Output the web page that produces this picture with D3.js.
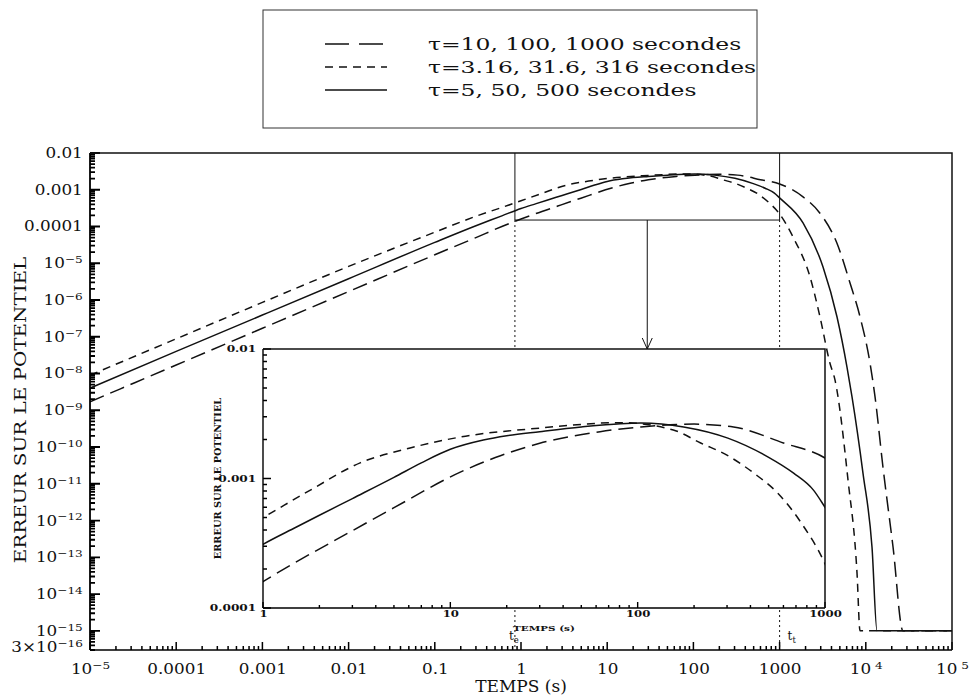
<!DOCTYPE html>
<html>
<head>
<meta charset="utf-8">
<script src="https://cdn.jsdelivr.net/npm/d3@7"></script>
<style>
  body { margin: 0; background: #fff; }
  text { font-family: "DejaVu Serif", serif; fill: #111; }
</style>
</head>
<body>
<svg id="chart" width="969" height="696"></svg>
<script>
// Data: temps (s) / erreur sur le potentiel
const legendLabels = ["τ=10, 100, 1000 secondes", "τ=3.16, 31.6, 316 secondes", "τ=5, 50, 500 secondes"];

const tLong = [1e-5, 1e-4, 1e-3, 0.01, 0.1, 0.3, 0.6, 1, 1.45, 2.67, 4.95, 11.3, 18.5, 30, 63, 104, 200, 325, 600, 1000, 1870, 2940, 4630, 6560, 8570, 11200, 12800, 15800, 20700, 27000, 1e5];
const eLong = [1.7e-9, 1.7e-8, 1.7e-7, 1.7e-6, 1.7e-5, 5e-5, 1.0e-4, 1.6e-4, 2.2e-4, 3.6e-4, 5.9e-4, 1.12e-3, 1.5e-3, 1.87e-3, 2.3e-3, 2.5e-3, 2.63e-3, 2.5e-3, 1.88e-3, 1.44e-3, 6.4e-4, 2.3e-4, 3.5e-5, 2.9e-6, 3.5e-7, 1.9e-8, 2.3e-9, 2.9e-11, 1.9e-13, 1e-15, 1e-15];

const tShort = [1e-5, 1e-4, 1e-3, 0.01, 0.1, 0.3, 0.6, 1, 1.78, 3.3, 6.1, 11.3, 30, 81, 155, 217, 303, 417, 560, 746, 985, 1430, 2250, 2940, 3840, 4390, 6220, 7910, 8570, 1e5];
const eShort = [9e-9, 8.8e-8, 8.6e-7, 8.2e-6, 7e-5, 1.9e-4, 3.3e-4, 5e-4, 8.1e-4, 1.32e-3, 1.72e-3, 2.09e-3, 2.45e-3, 2.7e-3, 2.37e-3, 1.88e-3, 1.5e-3, 1.1e-3, 7.7e-4, 4.55e-4, 2.3e-4, 5.2e-5, 4.3e-6, 3.5e-7, 1.9e-8, 6.7e-9, 1.26e-11, 3.7e-14, 1e-15, 1e-15];

const tSolid = [1e-5, 1e-4, 1e-3, 0.01, 0.1, 0.3, 0.6, 1, 1.5, 2, 3, 5, 7, 10, 15, 20, 30, 50, 81, 104, 176, 303, 495, 680, 870, 1000, 1870, 3190, 4630, 6050, 6920, 9290, 11800, 13500, 1e5];
const eSolid = [4e-9, 4e-8, 3.9e-7, 3.8e-6, 3.7e-5, 1.05e-4, 1.95e-4, 3.1e-4, 4.2e-4, 5.2e-4, 7e-4, 1.02e-3, 1.32e-3, 1.68e-3, 1.98e-3, 2.14e-3, 2.3e-3, 2.5e-3, 2.65e-3, 2.68e-3, 2.5e-3, 2.05e-3, 1.47e-3, 1.1e-3, 8.1e-4, 6e-4, 1.25e-4, 7.9e-6, 3.5e-7, 1.5e-8, 2.3e-9, 1.9e-11, 1.9e-13, 1e-15, 1e-15];

// tick values
const xMajor = [1e-5, 1e-4, 1e-3, 0.01, 0.1, 1, 10, 100, 1000, 1e4, 1e5];
const xLabels = [["10", "−5"], ["0.0001"], ["0.001"], ["0.01"], ["0.1"], ["1"], ["10"], ["100"], ["1000"], ["10", " 4"], ["10", " 5"]];
const yMajor = [1e-2, 1e-3, 1e-4, 1e-5, 1e-6, 1e-7, 1e-8, 1e-9, 1e-10, 1e-11, 1e-12, 1e-13, 1e-14, 1e-15, 3e-16];
const yLabels = [["0.01"], ["0.001"], ["0.0001"], ["10", "−5"], ["10", "−6"], ["10", "−7"], ["10", "−8"], ["10", "−9"], ["10", "−10"], ["10", "−11"], ["10", "−12"], ["10", "−13"], ["10", "−14"], ["10", "−15"], ["3×10", "−16"]];
const insetXMajor = [1, 10, 100, 1000];
const insetYMajor = [1e-4, 1e-3, 1e-2];
const insetYLabels = ["0.0001", "0.001", "0.01"];

// zoom window marked on the main plot (t_e, t_t)
const zoomT = [0.85, 1000];
const zoomLow = 1.5e-4;

const series = [
  { label: legendLabels[0], t: tLong, e: eLong, dash: "15,7" },
  { label: legendLabels[1], t: tShort, e: eShort, dash: "8,6" },
  { label: legendLabels[2], t: tSolid, e: eSolid, dash: null }
];

function minorTicks(lo, hi) {
  const out = [];
  for (let p = Math.floor(Math.log10(lo)); p < Math.ceil(Math.log10(hi)); p++) {
    for (let m = 2; m <= 9; m++) {
      const v = m * Math.pow(10, p);
      if (v >= lo && v <= hi) out.push(v);
    }
  }
  return out;
}

// write "10" + superscript into a text node
function sciText(el, parts) {
  el.text(null);
  el.append("tspan").text(parts[0]);
  if (parts.length > 1) {
    el.append("tspan").attr("dy", "-0.5em").attr("font-size", "0.72em").text(parts[1]);
  }
}

// axis line with inward ticks in one path: bottom axis (ticks up) / left axis (ticks right)
function bottomAxisPath(scale, y0, major, minor, lenMaj, lenMin) {
  const r = scale.range();
  let d = `M${r[0]},${y0}H${r[1]}`;
  major.forEach(v => { d += `M${scale(v)},${y0}V${y0 - lenMaj}`; });
  minor.forEach(v => { d += `M${scale(v)},${y0}V${y0 - lenMin}`; });
  return d;
}
function leftAxisPath(scale, x0, major, minor, lenMaj, lenMin) {
  const r = scale.range();
  let d = `M${x0},${r[0]}V${r[1]}`;
  major.forEach(v => { d += `M${x0},${scale(v)}H${x0 + lenMaj}`; });
  minor.forEach(v => { d += `M${x0},${scale(v)}H${x0 + lenMin}`; });
  return d;
}

const svg = d3.select("#chart");

// ---------- main plot ----------
const W = { left: 90, right: 952, top: 153, bottom: 650 };

const x = d3.scaleLog().domain([1e-5, 1e5]).range([W.left, W.right]);
const y = d3.scaleLog().domain([3e-16, 1e-2]).range([W.bottom, W.top]);

svg.append("clipPath").attr("id", "clipMain")
  .append("rect").attr("x", W.left).attr("y", W.top)
  .attr("width", W.right - W.left).attr("height", W.bottom - W.top);

const line = d3.line()
  .x(d => x(d[0]))
  .y(d => y(d[1]))
  .curve(d3.curveMonotoneX);

const curves = svg.append("g").attr("clip-path", "url(#clipMain)");
series.forEach(s => {
  curves.append("path")
    .datum(s.t.map((t, i) => [t, s.e[i]]))
    .attr("d", line)
    .attr("fill", "none")
    .attr("stroke", "#111")
    .attr("stroke-width", 1.5)
    .attr("stroke-dasharray", s.dash);
});

// tick labels through d3 axes (their own lines removed)
const xAxis = svg.append("g")
  .attr("transform", "translate(0," + W.bottom + ")")
  .call(d3.axisBottom(x).tickValues(xMajor).tickSize(0).tickPadding(14).tickSizeOuter(0));
xAxis.select(".domain").remove();
xAxis.selectAll(".tick line").remove();
xAxis.selectAll(".tick text")
  .attr("font-size", 14)
  .attr("transform", "scale(1.2,1)")
  .each(function(d, i) { sciText(d3.select(this), xLabels[i]); });

const yAxis = svg.append("g")
  .attr("transform", "translate(" + W.left + ",0)")
  .call(d3.axisLeft(y).tickValues(yMajor.slice(0, -1)).tickSize(0).tickPadding(6).tickSizeOuter(0));
yAxis.select(".domain").remove();
yAxis.selectAll(".tick line").remove();
yAxis.selectAll(".tick text")
  .attr("font-size", 14)
  .attr("transform", "scale(1.2,1)")
  .each(function(d, i) { sciText(d3.select(this), yLabels[i]); });

// 3x10^-16 label at the bottom of the y scale
const lastY = svg.append("text")
  .attr("font-size", 14)
  .attr("text-anchor", "end")
  .attr("dy", "0.32em")
  .attr("transform", "translate(" + (W.left - 7) + "," + (y(yMajor[yMajor.length - 1]) - 2) + ") scale(1.2,1)");
sciText(lastY, yLabels[yLabels.length - 1]);

// axis lines with ticks
svg.append("path")
  .attr("d", bottomAxisPath(x, W.bottom, xMajor, minorTicks(1e-5, 1e5), 8, 4))
  .attr("fill", "none").attr("stroke", "#000").attr("stroke-width", 1.5);
svg.append("path")
  .attr("d", leftAxisPath(y, W.left, yMajor.slice(0, -1), minorTicks(3e-16, 1e-2), 10, 5))
  .attr("fill", "none").attr("stroke", "#000").attr("stroke-width", 1.8);

// frame top / right
svg.append("path")
  .attr("d", `M${W.left},${W.top}H${W.right}V${W.bottom}`)
  .attr("fill", "none").attr("stroke", "#111").attr("stroke-width", 1.5);

// axis titles
svg.append("text")
  .attr("text-anchor", "middle")
  .attr("font-size", 17)
  .attr("transform", "translate(" + (W.left + W.right) / 2 + ",692)")
  .text("TEMPS (s)");
svg.append("text")
  .attr("text-anchor", "middle")
  .attr("font-size", 17)
  .attr("transform", "translate(26,410) rotate(-90) scale(1.17,1)")
  .text("ERREUR SUR LE POTENTIEL");

// zoom window on the main plot
const bx0 = x(zoomT[0]), bx1 = x(zoomT[1]), by = y(zoomLow);
svg.append("path")
  .attr("d", `M${bx0},${W.top}V${by}H${bx1}V${W.top}`)
  .attr("fill", "none").attr("stroke", "#111").attr("stroke-width", 1);
svg.append("path")
  .attr("d", `M${bx0},${by}V${W.bottom}M${bx1},${by}V${W.bottom}`)
  .attr("fill", "none").attr("stroke", "#111").attr("stroke-width", 1)
  .attr("stroke-dasharray", "2,3");

// ---------- inset ----------
const I = { left: 263, right: 825, top: 349, bottom: 608 };
const xi = d3.scaleLog().domain([1, 1000]).range([I.left, I.right]);
const yi = d3.scaleLog().domain([1e-4, 1e-2]).range([I.bottom, I.top]);

// arrow from the window to the inset
const ax = (bx0 + bx1) / 2;
svg.append("path")
  .attr("d", `M${ax},${by}V${I.top}M${ax - 5},${I.top - 11}L${ax},${I.top}L${ax + 5},${I.top - 11}`)
  .attr("fill", "none").attr("stroke", "#111").attr("stroke-width", 1);

svg.append("rect")
  .attr("x", I.left).attr("y", I.top)
  .attr("width", I.right - I.left).attr("height", I.bottom - I.top)
  .attr("fill", "#fff");

svg.append("clipPath").attr("id", "clipInset")
  .append("rect").attr("x", I.left).attr("y", I.top)
  .attr("width", I.right - I.left).attr("height", I.bottom - I.top);

const lineI = d3.line()
  .x(d => xi(d[0]))
  .y(d => yi(d[1]))
  .curve(d3.curveMonotoneX);

const curvesI = svg.append("g").attr("clip-path", "url(#clipInset)");
series.forEach(s => {
  curvesI.append("path")
    .datum(s.t.map((t, i) => [t, s.e[i]]).filter(d => d[0] >= 0.1 && d[0] <= 3000))
    .attr("d", lineI)
    .attr("fill", "none")
    .attr("stroke", "#111")
    .attr("stroke-width", 1.5)
    .attr("stroke-dasharray", s.dash);
});

const xiAxis = svg.append("g")
  .attr("transform", "translate(0," + I.bottom + ")")
  .call(d3.axisBottom(xi).tickValues(insetXMajor).tickSize(0).tickPadding(3).tickSizeOuter(0)
    .tickFormat(d3.format("d")));
xiAxis.select(".domain").remove();
xiAxis.selectAll(".tick line").remove();
xiAxis.selectAll(".tick text")
  .attr("font-size", 9).attr("font-weight", "bold")
  .attr("transform", "scale(1.3,1)");

const yiAxis = svg.append("g")
  .attr("transform", "translate(" + I.left + ",0)")
  .call(d3.axisLeft(yi).tickValues(insetYMajor).tickSize(0).tickPadding(5).tickSizeOuter(0)
    .tickFormat((d, i) => insetYLabels[i]));
yiAxis.select(".domain").remove();
yiAxis.selectAll(".tick line").remove();
yiAxis.selectAll(".tick text")
  .attr("font-size", 9).attr("font-weight", "bold")
  .attr("transform", "scale(1.35,1)");

svg.append("path")
  .attr("d", bottomAxisPath(xi, I.bottom, insetXMajor, minorTicks(1, 1000), 6, 3))
  .attr("fill", "none").attr("stroke", "#000").attr("stroke-width", 1.4);
svg.append("path")
  .attr("d", leftAxisPath(yi, I.left, insetYMajor, minorTicks(1e-4, 1e-2), 8, 4))
  .attr("fill", "none").attr("stroke", "#000").attr("stroke-width", 1.4);

svg.append("path")
  .attr("d", `M${I.left},${I.top}H${I.right}V${I.bottom}`)
  .attr("fill", "none").attr("stroke", "#111").attr("stroke-width", 1.5);

svg.append("text")
  .attr("text-anchor", "middle")
  .attr("font-size", 8).attr("font-weight", "bold")
  .attr("transform", "translate(" + (I.left + I.right) / 2 + ",631) scale(1.3,1)")
  .text("TEMPS (s)");
svg.append("text")
  .attr("text-anchor", "middle")
  .attr("font-size", 8.5).attr("font-weight", "bold")
  .attr("transform", "translate(221," + (I.top + I.bottom) / 2 + ") rotate(-90) scale(1.15,1)")
  .text("ERREUR SUR LE POTENTIEL");

// t_e, t_t
[["t", "e", bx0 - 6], ["t", "t", bx1 + 8]].forEach(l => {
  const t = svg.append("text").attr("x", l[2]).attr("y", 640).attr("font-size", 12);
  t.append("tspan").text(l[0]);
  t.append("tspan").attr("dy", "0.3em").attr("font-size", "0.7em").text(l[1]);
});

// ---------- legend ----------
const leg = svg.append("g");
leg.append("rect")
  .attr("x", 263).attr("y", 10).attr("width", 494).attr("height", 118)
  .attr("fill", "none").attr("stroke", "#333").attr("stroke-width", 1);
series.forEach((s, i) => {
  const ly = 44 + i * 23;
  leg.append("line")
    .attr("x1", 325).attr("x2", 387).attr("y1", ly).attr("y2", ly)
    .attr("stroke", "#111").attr("stroke-width", 1.5)
    .attr("stroke-dasharray", i === 0 ? "24,10" : s.dash);
  leg.append("text")
    .attr("font-size", 17)
    .attr("transform", "translate(428," + (ly + 6) + ") scale(1.38,1)")
    .text(s.label);
});
</script>
</body>
</html>
